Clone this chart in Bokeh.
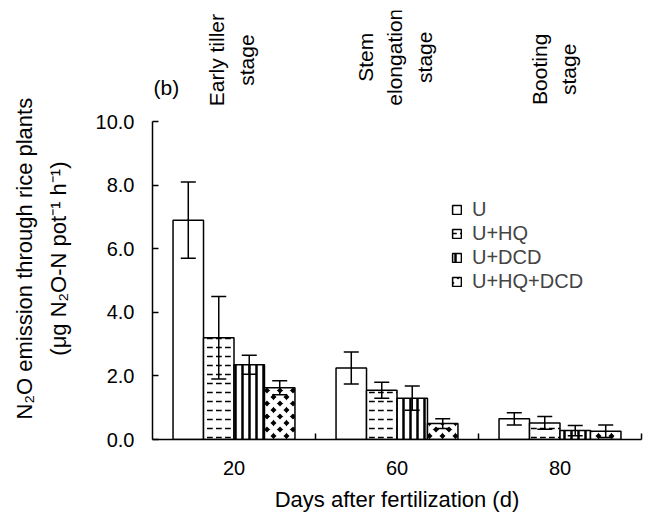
import numpy as np
from bokeh.plotting import figure
from bokeh.models import (ColumnDataSource, Range1d, FixedTicker, Whisker, TeeHead,
                          Legend, LegendItem, Label, NumeralTickFormatter)
from bokeh.embed import file_html
from bokeh.resources import INLINE

# ---------------- data ----------------
days = ["20", "60", "80"]
stages = ["Early tiller\nstage", "Stem\nelongation\nstage", "Booting\nstage"]
treatments = ["U", "U+HQ", "U+DCD", "U+HQ+DCD"]
u_mean = [6.9, 2.25, 0.65]
u_err = [1.2, 0.5, 0.19]
hq_mean = [3.2, 1.55, 0.52]
hq_err = [1.3, 0.25, 0.2]
dcd_mean = [2.35, 1.3, 0.28]
dcd_err = [0.3, 0.38, 0.16]
hqdcd_mean = [1.63, 0.5, 0.26]
hqdcd_err = [0.22, 0.15, 0.2]
y_title = ["N\u2082O emission through rice plants", "(\u03bcg N\u2082O-N pot\u207b\u00b9 h\u207b\u00b9)"]

FONT = "Liberation Sans"

p = figure(width=648, height=518, output_backend="svg", toolbar_location=None,
           x_range=Range1d(0, 3), y_range=Range1d(0, 13.5),
           min_border_left=152, min_border_right=7, min_border_top=10, min_border_bottom=79)
p.outline_line_color = None
p.xgrid.grid_line_color = None
p.ygrid.grid_line_color = None
p.background_fill_color = "white"
p.border_fill_color = "white"

group_pos = np.arange(len(days)) + 0.5
bar_w = 0.187
offsets = [-1.5 * bar_w, -0.5 * bar_w, 0.5 * bar_w, 1.5 * bar_w]

series = [u_mean, hq_mean, dcd_mean, hqdcd_mean]
errors = [u_err, hq_err, dcd_err, hqdcd_err]
styles = [
    dict(fill_color="white"),
    dict(fill_color="white", hatch_pattern="horizontal_dash", hatch_color="black",
         hatch_scale=9, hatch_weight=1.5),
    dict(fill_color="white", hatch_pattern="vertical_line", hatch_color="black",
         hatch_scale=7, hatch_weight=2.5),
    dict(fill_color="black", hatch_pattern="diagonal_cross", hatch_color="white",
         hatch_scale=13, hatch_weight=5),
]

renderers = []
for vals, errs, off, st in zip(series, errors, offsets, styles):
    xs = group_pos + off
    vals = np.array(vals)
    errs = np.array(errs)
    src = ColumnDataSource(dict(x=xs, top=vals, upper=vals + errs, lower=vals - errs))
    r = p.vbar(x="x", top="top", width=bar_w, source=src, line_color="black",
               line_width=1.5, **st)
    renderers.append(r)
    w = Whisker(base="x", upper="upper", lower="lower", source=src,
                line_color="black", line_width=1.5, level="annotation",
                upper_head=TeeHead(size=15, line_width=1.5, line_color="black"),
                lower_head=TeeHead(size=15, line_width=1.5, line_color="black"))
    p.add_layout(w)

# x axis
xa = p.xaxis[0]
xa.bounds = (0, 3)
xa.ticker = FixedTicker(ticks=list(group_pos), minor_ticks=[1, 2, 3])
xa.major_label_overrides = {float(g): d for g, d in zip(group_pos, days)}
xa.major_tick_in = 0
xa.major_tick_out = 0
xa.minor_tick_in = 6
xa.minor_tick_out = 0
xa.minor_tick_line_width = 1.5
xa.axis_line_width = 1.5
xa.major_label_standoff = 21
xa.major_label_text_font = FONT
xa.major_label_text_font_size = "20px"
xa.major_label_text_color = "black"
xa.axis_label = "Days after fertilization (d)"
xa.axis_label_text_font = FONT
xa.axis_label_text_font_size = "22px"
xa.axis_label_text_font_style = "normal"
xa.axis_label_text_color = "black"
xa.axis_label_standoff = 9

# y axis
ya = p.yaxis[0]
ya.bounds = (0, 10)
ya.ticker = FixedTicker(ticks=[0, 2, 4, 6, 8, 10], minor_ticks=[])
ya.formatter = NumeralTickFormatter(format="0.0")
ya.major_tick_in = 6
ya.major_tick_out = 0
ya.major_tick_line_width = 1.5
ya.axis_line_width = 1.5
ya.major_label_standoff = 18
ya.major_label_text_font = FONT
ya.major_label_text_font_size = "20px"
ya.major_label_text_color = "black"
# trailing no-break spaces move the (frame-centred) title down to sit beside the 0-10 axis
pad = "\u00a0" * 11
ya.axis_label = "\n".join(t + pad for t in y_title)
ya.axis_label_text_font = FONT
ya.axis_label_text_font_size = "22px"
ya.axis_label_text_font_style = "normal"
ya.axis_label_text_color = "black"
ya.axis_label_text_line_height = 1.35
ya.axis_label_standoff = 22

# legend
legend = Legend(items=[LegendItem(label=t, renderers=[r]) for t, r in zip(treatments, renderers)],
                location=(299, 146), orientation="vertical")
legend.label_text_font = FONT
legend.label_text_font_size = "20px"
legend.glyph_width = 11
legend.glyph_height = 11
legend.label_standoff = 10
legend.label_height = 20
legend.spacing = 1
legend.padding = 0
legend.margin = 0
legend.border_line_color = None
legend.background_fill_alpha = 0
p.add_layout(legend)

# stage annotations above the bars
stage_x = [0.485, 1.487, 2.465]
stage_y = [11.94, 12.03, 11.65]
for sx, s, sy in zip(stage_x, stages, stage_y):
    p.add_layout(Label(x=sx, y=sy, text=s, angle=np.pi / 2, text_align="center",
                       text_baseline="middle", text_font=FONT, text_font_size="21px",
                       text_line_height=1.27, text_color="black"))

p.add_layout(Label(x=0.006, y=11.07, text="(b)", text_align="left", text_baseline="middle",
                   text_font=FONT, text_font_size="21px", text_color="black"))

open("out.html", "w").write(file_html(p, INLINE))
